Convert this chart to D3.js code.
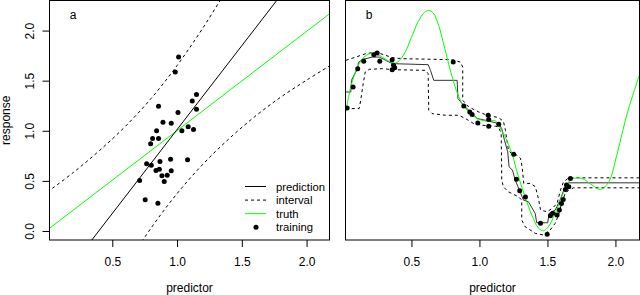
<!DOCTYPE html>
<html lang="en">
<head>
    <meta charset="UTF-8" />
    <title>Prediction intervals</title>
    <script src="https://d3js.org/d3.v7.min.js"></script>
    <style>
        body { margin: 0; background: #fff; }
        svg { display: block; }
        text { font-family: "Liberation Sans", Arial, Helvetica, sans-serif; fill: #000; }
    </style>
</head>

<body>
    <script>
        // ---- panel a: linear model ----
        var trainX = [1.012, 0.986, 1.150, 1.117, 1.150, 0.857, 1.007, 0.891, 0.955, 1.086,
                      1.127, 1.037, 0.842, 0.811, 0.857, 0.796, 0.950, 1.081, 0.765, 0.801,
                      0.868, 0.837, 0.863, 0.955, 0.883, 0.924, 0.901, 0.711, 0.754, 0.852];
        var trainY = [1.736, 1.587, 1.361, 1.298, 1.215, 1.245, 1.182, 1.086, 1.076, 1.039,
                      1.013, 1.000, 1.000, 0.923, 0.923, 0.870, 0.717, 0.711, 0.671, 0.657,
                      0.694, 0.604, 0.617, 0.601, 0.551, 0.557, 0.495, 0.505, 0.312, 0.276];
        var predX = [0, 2.2];
        var predY = [-0.662, 3.021];
        var truthX = [0, 2.2];
        var truthY = [0.012, 2.19];
        var upperX = [0, 0.2, 0.4, 0.6, 0.8, 1.0, 1.2, 1.4];
        var upperY = [0.39, 0.585, 0.802, 1.043, 1.323, 1.651, 2.027, 2.445];
        var lowerX = [0.6, 0.8, 1.0, 1.2, 1.4, 1.6, 1.8, 2.0, 2.2];
        var lowerY = [-0.359, 0.031, 0.373, 0.667, 0.919, 1.141, 1.335, 1.505, 1.665];

        // ---- panel b: nonlinear truth, stepwise fit ----
        var bTrainX = [0.027, 0.071, 0.105, 0.149, 0.223, 0.248, 0.267, 0.358, 0.358, 0.377,
                       0.368, 0.807, 0.885, 0.929, 0.946, 0.988, 1.064, 1.068, 1.068, 1.142,
                       1.252, 1.272, 1.296, 1.338, 1.449, 1.498, 1.522, 1.539, 1.571, 1.588,
                       1.603, 1.616, 1.632, 1.640, 1.657, 1.669];
        var bTrainY = [0.123, 0.333, 0.517, 0.59, 0.657, 0.673, 0.59, 0.607, 0.507, 0.527,
                       0.55, 0.583, 0.143, 0.083, 0.057, -0.027, 0.05, 0.007, -0.06, -0.04,
                       -0.34, -0.59, -0.707, -0.77, -1.033, -1.143, -0.957, -0.933, -0.95, -0.9,
                       -0.833, -0.793, -0.693, -0.65, -0.667, -0.583];
        var bTruthX = [0.017, 0.054, 0.103, 0.152, 0.213, 0.263, 0.336, 0.385, 0.440, 0.500,
                       0.550, 0.595, 0.627, 0.660, 0.700, 0.745, 0.790, 0.830, 0.873, 0.921, 0.983, 1.044,
                       1.118, 1.140, 1.189, 1.238, 1.287, 1.336, 1.385, 1.434, 1.471, 1.507,
                       1.557, 1.605, 1.654, 1.693, 1.755, 1.829, 1.890, 1.951, 2.013, 2.086, 2.176];
        var bTruthY = [0.083, 0.333, 0.533, 0.633, 0.673, 0.65, 0.59, 0.573, 0.65, 0.83,
                       0.99, 1.08, 1.1, 1.075, 0.95, 0.72, 0.48, 0.3, 0.167, 0.083, 0.017, -0.007,
                       -0.007, -0.05, -0.167, -0.333, -0.567, -0.767, -0.95, -1.08, -1.107, -1.067,
                       -0.933, -0.767, -0.62, -0.583, -0.583, -0.65, -0.693, -0.617, -0.333, 0.067, 0.45];
        var bPredX = [0.017, 0.054, 0.059, 0.088, 0.103, 0.110, 0.140, 0.164, 0.213, 0.263,
                      0.311, 0.360, 0.623, 0.640, 0.664, 0.836, 0.842, 0.873, 0.897, 0.934,
                      0.983, 1.044, 1.140, 1.164, 1.184, 1.208, 1.218, 1.243, 1.263, 1.299,
                      1.324, 1.360, 1.410, 1.421, 1.502, 1.512, 1.557, 1.593, 1.625, 1.654, 2.179];
        var bPredY = [0.283, 0.283, 0.4, 0.48, 0.5, 0.58, 0.61, 0.617, 0.633, 0.633,
                      0.6, 0.567, 0.557, 0.5, 0.4, 0.4, 0.217, 0.167, 0.133, 0.083,
                      0.017, 0, -0.033, -0.083, -0.2, -0.317, -0.467, -0.5, -0.6, -0.717,
                      -0.8, -0.817, -0.933, -1.027, -1.027, -0.933, -0.9, -0.8, -0.683, -0.627, -0.627];
        var bUpperX = [0.017, 0.090, 0.164, 0.238, 0.311, 0.360, 0.434, 0.799, 0.860, 0.877,
                       0.877, 0.921, 0.995, 1.057, 1.140, 1.176, 1.191, 1.213, 1.240, 1.277,
                       1.301, 1.314, 1.326, 1.375, 1.412, 1.436, 1.449, 1.498, 1.535, 1.571,
                       1.596, 1.618, 1.657, 2.179];
        var bUpperY = [0.6, 0.633, 0.667, 0.683, 0.65, 0.627, 0.617, 0.607, 0.583, 0.533,
                       0.2, 0.133, 0.083, 0.05, 0.027, -0.01, -0.1, -0.3, -0.34, -0.35,
                       -0.38, -0.467, -0.633, -0.633, -0.667, -0.8, -0.9, -0.917, -0.883, -0.833,
                       -0.7, -0.617, -0.577, -0.577];
        var bLowerX = [0.017, 0.115, 0.127, 0.145, 0.160, 0.189, 0.287, 0.360, 0.603, 0.623,
                       0.627, 0.652, 0.750, 0.848, 0.897, 0.958, 1.020, 1.118, 1.140, 1.160,
                       1.164, 1.176, 1.213, 1.287, 1.311, 1.311, 1.336, 1.410, 1.471, 1.520,
                       1.557, 1.581, 1.605, 1.630, 1.657, 1.693, 2.179];
        var bLowerY = [0.117, 0.117, 0.2, 0.367, 0.483, 0.51, 0.517, 0.507, 0.5, 0.467,
                       0.1, 0.067, 0.05, 0.05, 0.017, -0.033, -0.05, -0.06, -0.067, -0.133,
                       -0.6, -0.667, -0.717, -0.767, -0.8, -1.0, -1.067, -1.133, -1.15, -1.1,
                       -1.033, -0.95, -0.833, -0.733, -0.7, -0.677, -0.677];

        var xTicks = [0.5, 1.0, 1.5, 2.0];
        var yTicks = [0.0, 0.5, 1.0, 1.5, 2.0];
        var legendLabels = ["prediction", "interval", "truth", "training"];

        var w = 640, h = 295;
        var plotTop = 0.5, plotBottom = 240;
        var green = "#00ff00";
        var dash = "3,3";

        var svg = d3.select("body")
            .append("svg")
            .attr("width", w)
            .attr("height", h);

        function zip(xs, ys) {
            return xs.map(function(x, i) { return [x, ys[i]]; });
        }

        function panel(id, left, right, yDomain) {
            var xScale = d3.scaleLinear().domain([0.015, 2.177]).range([left, right]);
            var yScale = d3.scaleLinear().domain(yDomain).range([plotBottom, plotTop]);

            svg.append("clipPath").attr("id", "clip-" + id)
                .append("rect")
                .attr("x", left).attr("y", plotTop)
                .attr("width", right - left).attr("height", plotBottom - plotTop);

            var g = svg.append("g");
            var plot = g.append("g").attr("clip-path", "url(#clip-" + id + ")");

            // x axis
            var xAxis = g.append("g")
                .attr("transform", "translate(0," + plotBottom + ")")
                .call(d3.axisBottom(xScale).tickValues(xTicks).tickSize(7).tickPadding(10)
                    .tickFormat(d3.format(".1f")));
            xAxis.select(".domain").remove();
            xAxis.selectAll("text").attr("font-size", 12).attr("font-family", null);

            g.append("text")
                .attr("x", (left + right) / 2)
                .attr("y", 291.5)
                .attr("text-anchor", "middle")
                .attr("font-size", 12)
                .text("predictor");

            return { g: g, plot: plot, x: xScale, y: yScale, left: left, right: right };
        }

        function drawLine(p, xs, ys, color, dashed, curve) {
            var line = d3.line()
                .x(function(d) { return p.x(d[0]); })
                .y(function(d) { return p.y(d[1]); })
                .curve(curve || d3.curveLinear);
            p.plot.append("path")
                .datum(zip(xs, ys))
                .attr("d", line)
                .attr("fill", "none")
                .attr("stroke", color)
                .attr("stroke-width", 1)
                .attr("stroke-dasharray", dashed ? dash : null);
        }

        function drawPoints(p, xs, ys) {
            p.plot.selectAll(null)
                .data(zip(xs, ys))
                .enter()
                .append("circle")
                .attr("cx", function(d) { return p.x(d[0]); })
                .attr("cy", function(d) { return p.y(d[1]); })
                .attr("r", 2.5)
                .attr("fill", "#000");
        }

        function frame(p, label) {
            p.g.append("rect")
                .attr("x", p.left).attr("y", plotTop)
                .attr("width", p.right - p.left).attr("height", plotBottom - plotTop)
                .attr("fill", "none")
                .attr("stroke", "#000");
            p.g.append("text")
                .attr("x", p.left + 23.5)
                .attr("y", 18.5)
                .attr("text-anchor", "middle")
                .attr("font-size", 12)
                .text(label);
        }

        // ---- panel a ----
        var a = panel("a", 49.5, 329.5, [-0.09, 2.30]);

        var yAxis = a.g.append("g")
            .attr("transform", "translate(" + a.left + ",0)")
            .call(d3.axisLeft(a.y).tickValues(yTicks).tickSize(7).tickFormat(d3.format(".1f")));
        yAxis.select(".domain").remove();
        yAxis.selectAll(".tick text")
            .attr("font-size", 12)
            .attr("font-family", null)
            .attr("text-anchor", "middle")
            .attr("dy", null)
            .attr("x", null)
            .attr("transform", "translate(-15.5,0) rotate(-90)");

        a.g.append("text")
            .attr("transform", "translate(9.5," + ((plotTop + plotBottom) / 2) + ") rotate(-90)")
            .attr("text-anchor", "middle")
            .attr("font-size", 12)
            .text("response");

        drawLine(a, upperX, upperY, "#000", true, d3.curveCatmullRom);
        drawLine(a, lowerX, lowerY, "#000", true, d3.curveCatmullRom);
        drawLine(a, truthX, truthY, green, false);
        drawLine(a, predX, predY, "#000", false);
        drawPoints(a, trainX, trainY);
        frame(a, "a");

        // legend
        var legend = a.g.append("g");
        legendLabels.forEach(function(lab, i) {
            var ly = 186.5 + i * 13.6;
            if (i < 3) {
                legend.append("line")
                    .attr("x1", 245).attr("x2", 266)
                    .attr("y1", ly).attr("y2", ly)
                    .attr("stroke", i === 2 ? green : "#000")
                    .attr("stroke-dasharray", i === 1 ? dash : null);
            } else {
                legend.append("circle")
                    .attr("cx", 256).attr("cy", ly).attr("r", 2.5).attr("fill", "#000");
            }
            legend.append("text")
                .attr("x", 276).attr("y", ly + 4)
                .attr("font-size", 11.3)
                .text(lab);
        });

        // ---- panel b ----
        var b = panel("b", 345.5, 639.5, [-1.2, 1.2]);
        drawLine(b, bUpperX, bUpperY, "#000", true);
        drawLine(b, bLowerX, bLowerY, "#000", true);
        drawLine(b, bPredX, bPredY, "#333", false);
        drawLine(b, bTruthX, bTruthY, green, false, d3.curveCatmullRom);
        drawPoints(b, bTrainX, bTrainY);
        frame(b, "b");
    </script>
</body>
</html>
